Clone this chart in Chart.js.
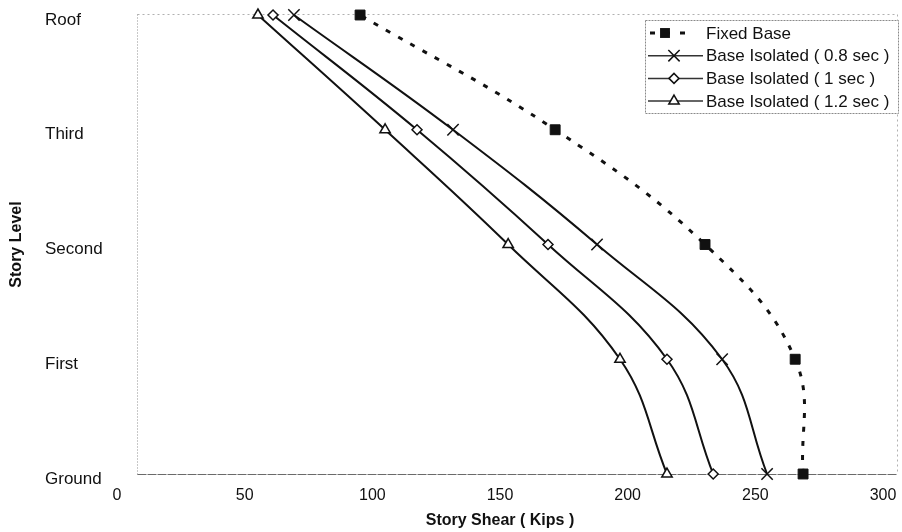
<!DOCTYPE html>
<html>
<head>
<meta charset="utf-8">
<title>Story Shear Distribution</title>
<script src="https://cdn.jsdelivr.net/npm/chart.js@4/dist/chart.umd.min.js"></script>
<style>
  html, body { margin: 0; padding: 0; background: #fff; }
  #wrap { width: 902px; height: 532px; }
</style>
</head>
<body>
<div id="wrap"><canvas id="c" width="902" height="532"></canvas></div>
<script>
// Story levels, bottom to top
const levels = ['Ground', 'First', 'Second', 'Third', 'Roof'];

// Story shear (kips) at each level, Ground .. Roof
const fixedBase = [268.7, 265.6, 230.3, 171.6, 95.2];
const isolated08 = [254.6, 237.0, 188.0, 131.6, 69.3];
const isolated10 = [233.5, 215.4, 168.8, 117.5, 61.1];
const isolated12 = [215.4, 197.0, 153.2, 105.0, 55.2];

const seriesNames = ['Fixed Base', 'Base Isolated ( 0.8 sec )', 'Base Isolated ( 1 sec )', 'Base Isolated ( 1.2 sec )'];

// x-axis tick values
const shearTicks = [0, 50, 100, 150, 200, 250, 300];

const FONT = "'Liberation Sans', Arial, sans-serif";
const INK = '#111';

const toPoints = arr => arr.map((v, i) => ({ x: v, y: i }));

// Dotted plot frame drawn under the series
const framePlugin = {
  id: 'frame',
  beforeDatasetsDraw(chart) {
    const { ctx, chartArea, scales } = chart;
    const left = Math.round(scales.x.getPixelForValue(8)) + 0.5;
    const right = chart.width - 4.5;
    const top = chartArea.top - 0.5;
    const bottom = Math.round(chartArea.bottom) + 0.5;
    ctx.save();
    ctx.lineWidth = 1;
    ctx.strokeStyle = '#b0b0b0';
    ctx.setLineDash([2, 3]);
    ctx.beginPath();
    ctx.moveTo(left, top); ctx.lineTo(right, top);
    ctx.moveTo(right, top); ctx.lineTo(right, bottom);
    ctx.stroke();
    ctx.strokeStyle = '#909090';
    ctx.setLineDash([1, 2]);
    ctx.beginPath();
    ctx.moveTo(left, top); ctx.lineTo(left, bottom);
    ctx.stroke();
    ctx.strokeStyle = '#6a6a6a';
    ctx.setLineDash([9, 1]);
    ctx.beginPath();
    ctx.moveTo(left, bottom); ctx.lineTo(right, bottom);
    ctx.stroke();
    ctx.restore();
  }
};

function drawMarker(ctx, style, x, y, r) {
  ctx.save();
  ctx.lineWidth = 1.5;
  ctx.strokeStyle = INK;
  ctx.setLineDash([]);
  ctx.beginPath();
  if (style === 'rect') {
    const s = r * Math.SQRT1_2;
    ctx.fillStyle = INK;
    ctx.rect(x - s, y - s, 2 * s, 2 * s);
    ctx.fill();
  } else if (style === 'crossRot') {
    const s = r * Math.SQRT1_2;
    ctx.moveTo(x - s, y - s); ctx.lineTo(x + s, y + s);
    ctx.moveTo(x - s, y + s); ctx.lineTo(x + s, y - s);
    ctx.stroke();
  } else if (style === 'rectRot') {
    ctx.fillStyle = '#fff';
    ctx.moveTo(x - r, y); ctx.lineTo(x, y - r); ctx.lineTo(x + r, y); ctx.lineTo(x, y + r);
    ctx.closePath();
    ctx.fill(); ctx.stroke();
  } else if (style === 'triangle') {
    ctx.fillStyle = '#fff';
    ctx.moveTo(x, y - r); ctx.lineTo(x + r * 0.866, y + r / 2); ctx.lineTo(x - r * 0.866, y + r / 2);
    ctx.closePath();
    ctx.fill(); ctx.stroke();
  }
  ctx.restore();
}

// Boxed legend in the upper right corner of the plot
const legendBoxPlugin = {
  id: 'legendBox',
  afterDraw(chart) {
    const { ctx } = chart;
    const box = { x: 645.5, y: 20.5, w: 253, h: 93 };
    ctx.save();
    ctx.fillStyle = '#fff';
    ctx.fillRect(box.x, box.y, box.w, box.h);
    ctx.strokeStyle = '#8a8a8a';
    ctx.lineWidth = 1;
    ctx.setLineDash([2, 1]);
    ctx.strokeRect(box.x, box.y, box.w, box.h);
    ctx.font = '17px ' + FONT;
    ctx.textBaseline = 'middle';
    ctx.textAlign = 'left';
    chart.data.datasets.forEach((ds, i) => {
      const y = 33 + i * 22.7;
      ctx.save();
      ctx.strokeStyle = ds.borderColor;
      if (i === 0) {
        ctx.lineWidth = 3;
        ctx.setLineDash([5, 10]);
        ctx.beginPath(); ctx.moveTo(650, y); ctx.lineTo(685, y); ctx.stroke();
      } else {
        ctx.lineWidth = 1.5;
        ctx.setLineDash([]);
        ctx.strokeStyle = '#333';
        ctx.beginPath(); ctx.moveTo(648, y); ctx.lineTo(703, y); ctx.stroke();
      }
      ctx.restore();
      const mx = i === 0 ? 665 : 674;
      drawMarker(ctx, ds.pointStyle, mx, y, ds.pointRadius);
      ctx.fillStyle = INK;
      ctx.fillText(ds.label, 706, y + 1);
    });
    ctx.restore();
  }
};

// Rotated title for the vertical axis
const yTitlePlugin = {
  id: 'yTitle',
  afterDraw(chart) {
    const { ctx, chartArea } = chart;
    ctx.save();
    ctx.translate(17, (chartArea.top + chartArea.bottom) / 2);
    ctx.rotate(-Math.PI / 2);
    ctx.font = 'bold 16px ' + FONT;
    ctx.fillStyle = INK;
    ctx.textAlign = 'center';
    ctx.textBaseline = 'middle';
    ctx.fillText('Story Level', 0, 0);
    ctx.restore();
  }
};

const common = { showLine: true, tension: 0.4, clip: false, borderColor: INK, pointBorderColor: INK, pointHoverRadius: 0 };

new Chart(document.getElementById('c'), {
  type: 'scatter',
  data: {
    datasets: [
      Object.assign({}, common, {
        label: seriesNames[0], data: toPoints(fixedBase),
        borderWidth: 3, borderDash: [5, 9],
        pointStyle: 'rect', pointRadius: 7, pointBackgroundColor: INK, pointBorderWidth: 1
      }),
      Object.assign({}, common, {
        label: seriesNames[1], data: toPoints(isolated08),
        borderWidth: 2, pointStyle: 'crossRot', pointRadius: 8, pointBorderWidth: 1.5,
        pointBackgroundColor: INK
      }),
      Object.assign({}, common, {
        label: seriesNames[2], data: toPoints(isolated10),
        borderWidth: 2, pointStyle: 'rectRot', pointRadius: 5, pointBorderWidth: 1.5,
        pointBackgroundColor: '#fff'
      }),
      Object.assign({}, common, {
        label: seriesNames[3], data: toPoints(isolated12),
        borderWidth: 2, pointStyle: 'triangle', pointRadius: 6, pointBorderWidth: 1.5,
        pointBackgroundColor: '#fff'
      })
    ]
  },
  options: {
    responsive: false,
    animation: false,
    events: [],
    layout: { padding: { left: 45, right: 19, top: 15, bottom: 0 } },
    plugins: {
      legend: { display: false },
      tooltip: { enabled: false }
    },
    scales: {
      x: {
        type: 'linear', min: 0, max: 300,
        afterBuildTicks: s => { s.ticks = shearTicks.map(v => ({ value: v })); },
        afterFit: s => { s.height = 58; },
        border: { display: false },
        grid: { display: false, drawTicks: true, tickLength: 12 },
        ticks: { padding: 0, color: INK, font: { family: FONT, size: 16 }, maxRotation: 0 },
        title: { display: true, text: 'Story Shear ( Kips )', color: INK, font: { family: FONT, size: 16, weight: 'bold' }, padding: { top: 0, bottom: 2 } }
      },
      y: {
        type: 'linear', min: 0, max: levels.length - 1,
        afterBuildTicks: s => { s.ticks = levels.map((_, i) => ({ value: i })); },
        afterFit: s => { s.width = 72; },
        border: { display: false },
        grid: { display: false, drawTicks: false },
        ticks: {
          crossAlign: 'far', labelOffset: 5, color: INK,
          font: { family: FONT, size: 17 },
          callback: v => levels[v]
        },
        title: { display: false }
      }
    }
  },
  plugins: [framePlugin, legendBoxPlugin, yTitlePlugin]
});
</script>
</body>
</html>
